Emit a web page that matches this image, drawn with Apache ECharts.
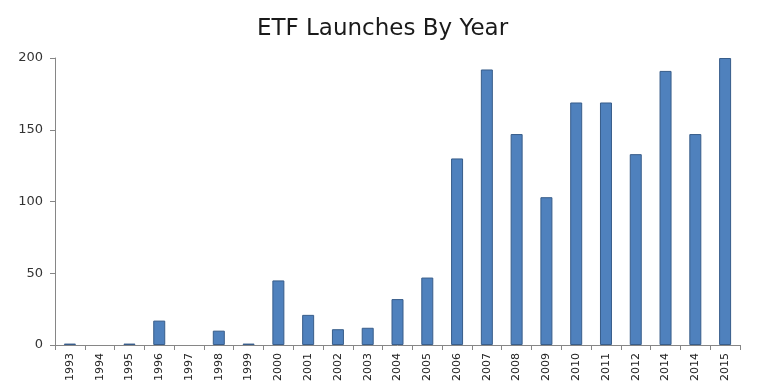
<!DOCTYPE html>
<html>
<head>
<meta charset="utf-8">
<script src="https://cdn.jsdelivr.net/npm/echarts@6/dist/echarts.min.js"></script>
<style>html,body{margin:0;padding:0;background:#fff}#c{width:765px;height:386px}</style>
</head>
<body>
<div id="c"></div>
<script>
const years = ['1993','1994','1995','1996','1997','1998','1999','2000','2001','2002','2003','2004','2005','2006','2007','2008','2009','2010','2011','2012','2014','2014','2015'];
const launches = [1,0,1,17,0,10,1,45,21,11,12,32,47,130,192,147,103,169,169,133,191,147,200];
const yTicks = [0,50,100,150,200];

const chart = echarts.init(document.getElementById('c'));
chart.setOption({
  animation: false,
  title: {
    text: 'ETF Launches By Year',
    left: 'center',
    top: 13,
    textStyle: {fontFamily: 'DejaVu Sans', fontSize: 23, fontWeight: 'normal', color: '#1a1a1a'}
  },
  grid: {left: 55, right: 25, top: 58, bottom: 41, containLabel: false},
  xAxis: {
    type: 'category',
    data: years.map((y, i) => ({value: y + '#' + i})),
    boundaryGap: true,
    axisLine: {lineStyle: {color: '#868686', width: 1}},
    axisTick: {show: true, alignWithLabel: false, length: 5, lineStyle: {color: '#868686'}},
    axisLabel: {
      rotate: 90, interval: 0, margin: 8,
      fontFamily: 'DejaVu Sans', fontSize: 11, color: '#222',
      formatter: v => v.split('#')[0]
    },
    splitLine: {show: false}
  },
  yAxis: {
    type: 'value',
    min: yTicks[0], max: yTicks[yTicks.length - 1], interval: 50,
    axisLine: {show: true, lineStyle: {color: '#868686', width: 1}},
    axisTick: {show: true, length: 5, lineStyle: {color: '#868686'}},
    axisLabel: {fontFamily: 'DejaVu Sans', fontSize: 13, color: '#333', margin: 12},
    splitLine: {show: false}
  },
  series: [{
    type: 'bar',
    data: launches.map(v => v === 0 ? {value: v, itemStyle: {borderWidth: 0}} : v),
    barWidth: 12,
    itemStyle: {color: '#4F81BD', borderColor: '#385D8A', borderWidth: 1}
  }]
});
</script>
</body>
</html>
